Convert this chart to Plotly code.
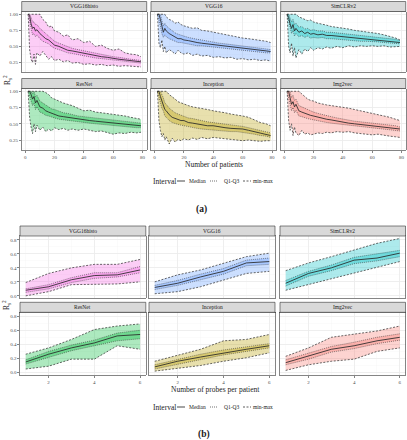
import plotly.graph_objects as go

# ---------------- data ----------------
models = ["VGG16histo", "VGG16", "SimCLRv2", "ResNet", "Inception", "Img2vec"]
model_colors = ["#F564E3", "#619CFF", "#00BFC4", "#00BA38", "#B79F00", "#F8766D"]

patients = [2, 3, 4, 5, 6, 7, 8, 10, 12, 14, 16, 18, 20, 23, 26, 29, 32, 36, 40, 44, 48, 52, 56, 60, 64, 68, 72, 76, 79]
patient_ticks = [0, 20, 40, 60, 80]
probes = [1, 2, 3, 4, 5, 6]
probe_ticks = [2, 4, 6]

# (a) R2 vs number of patients
VGG16HISTO_A_MED = [1.00,0.98,0.85,0.78,0.80,0.74,0.76,0.70,0.66,0.62,0.60,0.56,0.52,0.50,0.47,0.44,0.43,0.41,0.39,0.37,0.35,0.34,0.33,0.31,0.30,0.29,0.28,0.27,0.26]
VGG16HISTO_A_Q1 = [1.00,0.90,0.75,0.68,0.70,0.65,0.68,0.62,0.58,0.56,0.54,0.50,0.47,0.45,0.42,0.40,0.39,0.37,0.35,0.34,0.32,0.31,0.30,0.29,0.28,0.27,0.26,0.25,0.24]
VGG16HISTO_A_Q3 = [1.00,1.00,0.95,0.88,0.88,0.84,0.84,0.78,0.74,0.70,0.67,0.63,0.58,0.55,0.52,0.49,0.47,0.45,0.43,0.41,0.39,0.37,0.36,0.34,0.33,0.31,0.30,0.29,0.28]
VGG16HISTO_A_MIN = [1.00,0.45,0.30,0.25,0.38,0.22,0.40,0.35,0.42,0.36,0.30,0.34,0.28,0.30,0.26,0.28,0.24,0.25,0.22,0.23,0.21,0.22,0.20,0.21,0.19,0.20,0.19,0.18,0.18]
VGG16HISTO_A_MAX = [1.00,1.00,1.00,1.00,1.00,1.00,1.00,1.00,0.92,0.88,0.80,0.82,0.74,0.72,0.66,0.68,0.60,0.62,0.56,0.58,0.50,0.52,0.47,0.44,0.46,0.40,0.38,0.37,0.34]

VGG16_A_MED = [1.00,1.00,0.92,0.80,0.72,0.78,0.74,0.70,0.67,0.64,0.62,0.62,0.60,0.59,0.57,0.56,0.55,0.54,0.52,0.51,0.50,0.49,0.48,0.47,0.46,0.45,0.44,0.43,0.42]
VGG16_A_Q1 = [1.00,0.92,0.82,0.70,0.64,0.68,0.65,0.62,0.60,0.58,0.56,0.56,0.55,0.54,0.52,0.51,0.51,0.50,0.48,0.47,0.46,0.45,0.45,0.44,0.43,0.42,0.41,0.40,0.40]
VGG16_A_Q3 = [1.00,1.00,1.00,0.90,0.82,0.86,0.82,0.78,0.74,0.71,0.69,0.68,0.66,0.64,0.62,0.61,0.60,0.58,0.56,0.55,0.54,0.53,0.52,0.50,0.49,0.48,0.47,0.46,0.45]
VGG16_A_MIN = [1.00,0.55,0.48,0.60,0.42,0.50,0.40,0.45,0.42,0.38,0.44,0.40,0.38,0.40,0.36,0.38,0.35,0.36,0.33,0.34,0.32,0.33,0.30,0.31,0.29,0.30,0.28,0.29,0.27]
VGG16_A_MAX = [1.00,1.00,1.00,1.00,1.00,1.00,0.96,0.92,0.90,0.86,0.88,0.84,0.82,0.80,0.78,0.79,0.75,0.74,0.72,0.70,0.68,0.67,0.65,0.63,0.62,0.61,0.59,0.58,0.56]

SIMCLR_A_MED = [1.00,0.95,0.85,0.78,0.84,0.74,0.78,0.72,0.74,0.70,0.72,0.69,0.70,0.68,0.69,0.67,0.67,0.66,0.65,0.64,0.63,0.62,0.62,0.61,0.60,0.59,0.58,0.57,0.56]
SIMCLR_A_Q1 = [1.00,0.88,0.76,0.70,0.75,0.66,0.70,0.65,0.67,0.64,0.66,0.63,0.64,0.63,0.64,0.62,0.62,0.61,0.61,0.60,0.59,0.58,0.58,0.58,0.57,0.56,0.55,0.54,0.54]
SIMCLR_A_Q3 = [1.00,1.00,0.94,0.88,0.92,0.84,0.86,0.80,0.81,0.77,0.78,0.75,0.76,0.74,0.74,0.72,0.72,0.71,0.70,0.69,0.68,0.67,0.66,0.65,0.64,0.63,0.62,0.61,0.59]
SIMCLR_A_MIN = [1.00,0.50,0.40,0.55,0.35,0.48,0.32,0.45,0.38,0.46,0.42,0.48,0.44,0.48,0.46,0.49,0.47,0.50,0.48,0.51,0.49,0.51,0.50,0.51,0.50,0.51,0.49,0.50,0.50]
SIMCLR_A_MAX = [1.00,1.00,1.00,1.00,1.00,1.00,1.00,0.96,0.94,0.92,0.90,0.91,0.88,0.86,0.85,0.83,0.81,0.80,0.78,0.77,0.75,0.74,0.73,0.71,0.70,0.68,0.66,0.63,0.60]

RESNET_A_MED = [1.00,1.00,0.95,0.88,0.92,0.82,0.86,0.76,0.74,0.70,0.68,0.66,0.65,0.62,0.61,0.60,0.58,0.57,0.56,0.55,0.54,0.53,0.52,0.52,0.51,0.50,0.49,0.48,0.47]
RESNET_A_Q1 = [1.00,0.92,0.85,0.78,0.82,0.72,0.76,0.68,0.66,0.63,0.62,0.60,0.59,0.57,0.56,0.55,0.54,0.53,0.52,0.51,0.50,0.49,0.48,0.48,0.47,0.46,0.45,0.44,0.44]
RESNET_A_Q3 = [1.00,1.00,1.00,0.96,1.00,0.92,0.94,0.85,0.82,0.78,0.76,0.73,0.72,0.69,0.67,0.66,0.64,0.62,0.61,0.60,0.59,0.58,0.57,0.56,0.55,0.54,0.53,0.52,0.51]
RESNET_A_MIN = [1.00,0.60,0.45,0.35,0.50,0.38,0.48,0.40,0.45,0.38,0.42,0.39,0.44,0.41,0.43,0.40,0.42,0.40,0.42,0.40,0.38,0.39,0.36,0.34,0.36,0.35,0.37,0.36,0.37]
RESNET_A_MAX = [1.00,1.00,1.00,1.00,1.00,1.00,1.00,1.00,1.00,0.98,0.95,0.90,0.88,0.84,0.82,0.80,0.78,0.74,0.70,0.71,0.68,0.67,0.66,0.65,0.64,0.62,0.60,0.58,0.57]

INCEPTION_A_MED = [1.00,1.00,0.92,0.85,0.80,0.72,0.70,0.64,0.60,0.58,0.57,0.55,0.55,0.52,0.51,0.50,0.48,0.47,0.47,0.45,0.44,0.43,0.43,0.42,0.40,0.38,0.36,0.34,0.32]
INCEPTION_A_Q1 = [1.00,0.90,0.80,0.74,0.70,0.62,0.60,0.55,0.52,0.50,0.49,0.48,0.47,0.45,0.44,0.43,0.42,0.41,0.41,0.40,0.39,0.38,0.38,0.37,0.36,0.34,0.32,0.31,0.29]
INCEPTION_A_Q3 = [1.00,1.00,1.00,0.95,0.90,0.82,0.80,0.74,0.70,0.67,0.65,0.63,0.62,0.59,0.58,0.56,0.55,0.53,0.52,0.50,0.49,0.48,0.47,0.46,0.44,0.42,0.40,0.38,0.36]
INCEPTION_A_MIN = [1.00,0.55,0.40,0.30,0.35,0.25,0.30,0.19,0.28,0.22,0.26,0.24,0.27,0.25,0.28,0.26,0.29,0.27,0.29,0.28,0.27,0.26,0.25,0.24,0.25,0.24,0.23,0.24,0.24]
INCEPTION_A_MAX = [1.00,1.00,1.00,1.00,1.00,1.00,1.00,0.95,0.92,0.88,0.84,0.82,0.80,0.78,0.76,0.75,0.74,0.72,0.70,0.69,0.67,0.65,0.64,0.62,0.60,0.56,0.52,0.50,0.47]

IMG2VEC_A_MED = [1.00,1.00,0.90,0.80,0.84,0.76,0.80,0.70,0.68,0.66,0.64,0.63,0.62,0.60,0.58,0.57,0.56,0.54,0.52,0.51,0.50,0.49,0.48,0.47,0.46,0.45,0.44,0.43,0.42]
IMG2VEC_A_Q1 = [1.00,0.90,0.80,0.70,0.75,0.67,0.71,0.62,0.61,0.59,0.58,0.57,0.56,0.54,0.53,0.52,0.51,0.50,0.48,0.47,0.46,0.45,0.44,0.44,0.43,0.42,0.41,0.40,0.39]
IMG2VEC_A_Q3 = [1.00,1.00,1.00,0.90,0.94,0.86,0.88,0.78,0.76,0.73,0.71,0.70,0.68,0.66,0.64,0.62,0.61,0.59,0.57,0.56,0.54,0.53,0.52,0.51,0.50,0.49,0.48,0.47,0.45]
IMG2VEC_A_MIN = [1.00,0.55,0.40,0.50,0.32,0.45,0.36,0.32,0.40,0.34,0.36,0.33,0.34,0.36,0.35,0.37,0.36,0.38,0.37,0.38,0.36,0.35,0.34,0.33,0.34,0.32,0.31,0.30,0.29]
IMG2VEC_A_MAX = [1.00,1.00,1.00,1.00,1.00,1.00,1.00,1.00,0.96,0.92,0.88,0.86,0.85,0.82,0.80,0.79,0.78,0.77,0.76,0.74,0.72,0.70,0.69,0.67,0.65,0.62,0.60,0.57,0.55]

# (b) R2 vs number of probes per patient
VGG16HISTO_B_MIN = [0.00,0.06,0.16,0.17,0.17,0.20]
VGG16HISTO_B_Q1 = [0.05,0.10,0.19,0.25,0.27,0.33]
VGG16HISTO_B_MED = [0.08,0.13,0.23,0.29,0.30,0.37]
VGG16HISTO_B_Q3 = [0.10,0.16,0.26,0.33,0.33,0.42]
VGG16HISTO_B_MAX = [0.19,0.32,0.40,0.45,0.45,0.52]

VGG16_B_MIN = [0.03,0.06,0.13,0.23,0.32,0.35]
VGG16_B_Q1 = [0.09,0.15,0.23,0.31,0.43,0.45]
VGG16_B_MED = [0.12,0.18,0.27,0.35,0.47,0.49]
VGG16_B_Q3 = [0.15,0.22,0.31,0.39,0.51,0.54]
VGG16_B_MAX = [0.20,0.30,0.37,0.47,0.56,0.61]

SIMCLR_B_MIN = [0.08,0.16,0.25,0.32,0.40,0.49]
SIMCLR_B_Q1 = [0.14,0.28,0.36,0.46,0.50,0.56]
SIMCLR_B_MED = [0.18,0.32,0.40,0.51,0.54,0.61]
SIMCLR_B_Q3 = [0.22,0.35,0.44,0.55,0.60,0.65]
SIMCLR_B_MAX = [0.36,0.47,0.56,0.66,0.75,0.82]

RESNET_B_MIN = [0.05,0.09,0.19,0.19,0.38,0.33]
RESNET_B_Q1 = [0.12,0.22,0.31,0.38,0.45,0.48]
RESNET_B_MED = [0.15,0.26,0.35,0.42,0.52,0.54]
RESNET_B_Q3 = [0.18,0.30,0.39,0.46,0.56,0.60]
RESNET_B_MAX = [0.26,0.35,0.47,0.61,0.66,0.69]

INCEPTION_B_MIN = [0.02,0.06,0.10,0.16,0.21,0.28]
INCEPTION_B_Q1 = [0.05,0.12,0.18,0.25,0.30,0.35]
INCEPTION_B_MED = [0.08,0.16,0.22,0.28,0.33,0.38]
INCEPTION_B_Q3 = [0.11,0.19,0.26,0.32,0.36,0.41]
INCEPTION_B_MAX = [0.16,0.25,0.33,0.45,0.47,0.54]

IMG2VEC_B_MIN = [0.03,0.11,0.16,0.19,0.30,0.35]
IMG2VEC_B_Q1 = [0.11,0.19,0.29,0.34,0.41,0.46]
IMG2VEC_B_MED = [0.14,0.23,0.33,0.38,0.45,0.50]
IMG2VEC_B_Q3 = [0.18,0.27,0.37,0.43,0.50,0.55]
IMG2VEC_B_MAX = [0.23,0.35,0.50,0.54,0.59,0.66]

stats_a = [
    (VGG16HISTO_A_MIN, VGG16HISTO_A_Q1, VGG16HISTO_A_MED, VGG16HISTO_A_Q3, VGG16HISTO_A_MAX),
    (VGG16_A_MIN, VGG16_A_Q1, VGG16_A_MED, VGG16_A_Q3, VGG16_A_MAX),
    (SIMCLR_A_MIN, SIMCLR_A_Q1, SIMCLR_A_MED, SIMCLR_A_Q3, SIMCLR_A_MAX),
    (RESNET_A_MIN, RESNET_A_Q1, RESNET_A_MED, RESNET_A_Q3, RESNET_A_MAX),
    (INCEPTION_A_MIN, INCEPTION_A_Q1, INCEPTION_A_MED, INCEPTION_A_Q3, INCEPTION_A_MAX),
    (IMG2VEC_A_MIN, IMG2VEC_A_Q1, IMG2VEC_A_MED, IMG2VEC_A_Q3, IMG2VEC_A_MAX),
]
stats_b = [
    (VGG16HISTO_B_MIN, VGG16HISTO_B_Q1, VGG16HISTO_B_MED, VGG16HISTO_B_Q3, VGG16HISTO_B_MAX),
    (VGG16_B_MIN, VGG16_B_Q1, VGG16_B_MED, VGG16_B_Q3, VGG16_B_MAX),
    (SIMCLR_B_MIN, SIMCLR_B_Q1, SIMCLR_B_MED, SIMCLR_B_Q3, SIMCLR_B_MAX),
    (RESNET_B_MIN, RESNET_B_Q1, RESNET_B_MED, RESNET_B_Q3, RESNET_B_MAX),
    (INCEPTION_B_MIN, INCEPTION_B_Q1, INCEPTION_B_MED, INCEPTION_B_Q3, INCEPTION_B_MAX),
    (IMG2VEC_B_MIN, IMG2VEC_B_Q1, IMG2VEC_B_MED, IMG2VEC_B_Q3, IMG2VEC_B_MAX),
]

# ---------------- layout geometry (pixels) ----------------
W, H = 407, 440
SERIF = "Liberation Serif, DejaVu Serif, serif"
LINE = "rgba(45,45,45,0.9)"


def rgba(hexc, a):
    h = hexc.lstrip("#")
    return "rgba(%d,%d,%d,%.2f)" % (int(h[0:2], 16), int(h[2:4], 16), int(h[4:6], 16), a)


def xdom(x0, x1):
    return [x0 / W, x1 / W]


def ydom(top, bottom):
    return [1 - bottom / H, 1 - top / H]


cols_a = [(21.7, 146.7), (151.0, 276.3), (280.7, 405.7)]
rows_a = [(11.5, 72.3), (88.5, 150.0)]
cols_b = [(20.0, 145.8), (149.0, 275.0), (280.0, 405.5)]
rows_b = [(236.0, 298.3), (312.3, 375.0)]
STRIP = 10.0

fig = go.Figure()
layout = dict(
    width=W, height=H, autosize=False,
    margin=dict(l=0, r=0, t=0, b=0),
    paper_bgcolor="white", plot_bgcolor="white",
    showlegend=False,
    font=dict(family=SERIF, color="#333333"),
)
shapes = []
annotations = []

panels = []
for part in ("a", "b"):
    cols = cols_a if part == "a" else cols_b
    rows = rows_a if part == "a" else rows_b
    for i, m in enumerate(models):
        r, c = divmod(i, 3)
        panels.append((part, i, r, c, cols[c], rows[r]))

for k, (part, i, r, c, (cx0, cx1), (ry0, ry1)) in enumerate(panels, start=1):
    xa = "x" if k == 1 else "x%d" % k
    ya = "y" if k == 1 else "y%d" % k
    color = model_colors[i]
    if part == "a":
        xs = patients
        mn, q1, md, q3, mx = stats_a[i]
        xrange_ = [-2.4, 82.9]
        yrange_ = [0.097, 1.043]
        xt, yt = patient_ticks, [0.25, 0.50, 0.75, 1.00]
        ytxt = ["0.25", "0.50", "0.75", "1.00"]
        xminor, yminor = 10, 0.125
    else:
        xs = probes
        mn, q1, md, q3, mx = stats_b[i]
        xrange_ = [0.75, 6.25]
        yrange_ = [-0.035, 0.855]
        xt, yt = probe_ticks, [0.0, 0.2, 0.4, 0.6, 0.8]
        ytxt = ["0.0", "0.2", "0.4", "0.6", "0.8"]
        xminor, yminor = 1, 0.1
    # ribbons + lines
    fig.add_trace(go.Scatter(x=xs, y=mn, xaxis=xa, yaxis=ya, mode="lines",
                             line=dict(color=LINE, width=0.8, dash="2px,1.5px"), hoverinfo="skip"))
    fig.add_trace(go.Scatter(x=xs, y=mx, xaxis=xa, yaxis=ya, mode="lines",
                             line=dict(color=LINE, width=0.8, dash="2px,1.5px"),
                             fill="tonexty", fillcolor=rgba(color, 0.32), hoverinfo="skip"))
    fig.add_trace(go.Scatter(x=xs, y=q1, xaxis=xa, yaxis=ya, mode="lines",
                             line=dict(color=LINE, width=0.6, dash="1px,1px"), hoverinfo="skip"))
    fig.add_trace(go.Scatter(x=xs, y=q3, xaxis=xa, yaxis=ya, mode="lines",
                             line=dict(color=LINE, width=0.6, dash="1px,1px"),
                             fill="tonexty", fillcolor=rgba(color, 0.35), hoverinfo="skip"))
    fig.add_trace(go.Scatter(x=xs, y=md, xaxis=xa, yaxis=ya, mode="lines",
                             line=dict(color="rgba(40,40,40,0.95)", width=0.9), hoverinfo="skip"))

    show_x = (r == 1)
    show_y = (c == 0)
    axkey_x = "xaxis" if k == 1 else "xaxis%d" % k
    axkey_y = "yaxis" if k == 1 else "yaxis%d" % k
    layout[axkey_x] = dict(
        domain=xdom(cx0, cx1), anchor=ya, range=xrange_,
        tickvals=xt, showticklabels=show_x, ticks="outside" if show_x else "",
        ticklen=2, tickwidth=0.6, tickcolor="#333333",
        tickfont=dict(size=5, color="#4d4d4d", family=SERIF),
        showgrid=True, gridcolor="#ebebeb", gridwidth=0.8,
        minor=dict(dtick=xminor, tick0=0, showgrid=True, gridcolor="#f4f4f4", gridwidth=0.4),
        showline=True, mirror=True, linecolor="#333333", linewidth=0.6,
        zeroline=False, fixedrange=True,
    )
    layout[axkey_y] = dict(
        domain=ydom(ry0, ry1), anchor=xa, range=yrange_,
        tickvals=yt, ticktext=ytxt, showticklabels=show_y, ticks="outside" if show_y else "",
        ticklen=2, tickwidth=0.6, tickcolor="#333333",
        tickfont=dict(size=5, color="#4d4d4d", family=SERIF),
        showgrid=True, gridcolor="#ebebeb", gridwidth=0.8,
        minor=dict(dtick=yminor, tick0=0, showgrid=True, gridcolor="#f4f4f4", gridwidth=0.4),
        showline=True, mirror=True, linecolor="#333333", linewidth=0.6,
        zeroline=False, fixedrange=True,
    )
    # strip
    ph = ry1 - ry0
    shapes.append(dict(type="rect", xref="%s domain" % xa, yref="%s domain" % ya,
                       x0=0, x1=1, y0=1, y1=1 + STRIP / ph,
                       fillcolor="#d9d9d9", line=dict(color="#333333", width=0.6)))
    annotations.append(dict(xref="%s domain" % xa, yref="%s domain" % ya,
                            x=0.5, y=1 + (STRIP / 2) / ph, text=models[i], showarrow=False,
                            font=dict(size=5.5, color="#1a1a1a", family=SERIF),
                            xanchor="center", yanchor="middle"))


def paper_text(x, y, text, size, **kw):
    d = dict(xref="paper", yref="paper", x=x / W, y=1 - y / H, text=text, showarrow=False,
             font=dict(size=size, color="#1a1a1a", family=SERIF), xanchor="center", yanchor="middle")
    d.update(kw)
    return d


def legend(ycen):
    annotations.append(paper_text(164, ycen, "Interval", 7.5))
    shapes.append(dict(type="line", xref="paper", yref="paper", x0=177 / W, x1=185 / W,
                       y0=1 - ycen / H, y1=1 - ycen / H, line=dict(color="#333333", width=0.9)))
    annotations.append(paper_text(197.5, ycen, "Median", 5.5))
    shapes.append(dict(type="line", xref="paper", yref="paper", x0=210 / W, x1=218 / W,
                       y0=1 - ycen / H, y1=1 - ycen / H,
                       line=dict(color="#333333", width=0.7, dash="1px,1px")))
    annotations.append(paper_text(231.5, ycen, "Q1-Q3", 5.5))
    shapes.append(dict(type="line", xref="paper", yref="paper", x0=243 / W, x1=251 / W,
                       y0=1 - ycen / H, y1=1 - ycen / H,
                       line=dict(color="#333333", width=0.8, dash="2px,1.5px")))
    annotations.append(paper_text(263, ycen, "min-max", 5.5))


# part (a) texts
annotations.append(paper_text(213.5, 164.5, "Number of patients", 7.5))
legend(181)
annotations.append(paper_text(201.5, 209.5, "<b>(a)</b>", 9.5))
annotations.append(paper_text(7, 80, "R<sub>s</sub><sup>2</sup>", 7.5, textangle=-90))

# part (b) texts
annotations.append(paper_text(215, 389.5, "Number of probes per patient", 7.5))
legend(407)
annotations.append(paper_text(203.5, 434.5, "<b>(b)</b>", 9.5))
annotations.append(paper_text(6, 305, "R<sub>s</sub><sup>2</sup>", 7.5, textangle=-90))

layout["shapes"] = shapes
layout["annotations"] = annotations
fig.update_layout(**layout)

fig.write_html("out.html", config={"displayModeBar": False, "staticPlot": True},
               post_script="document.body.style.margin='0';")
